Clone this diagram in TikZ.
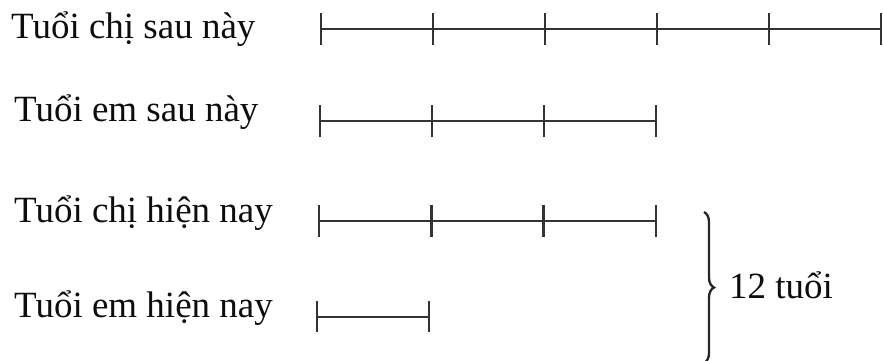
\documentclass[tikz,border=0pt]{standalone}
\usepackage{fontspec}
\setmainfont{Liberation Serif}
\usetikzlibrary{decorations.pathreplacing}
\begin{document}
\begin{tikzpicture}[x=1pt,y=-1pt,
  lbl/.style={anchor=base west,inner sep=0pt,font=\fontsize{37}{40}\selectfont,text=black!95},
  seg/.style={line width=2pt,draw=black!80},
  tk/.style={line width=2.4pt,draw=black!80}]
\useasboundingbox (0,0) rectangle (883,360);
% labels
\node[lbl] (l1) at (11,38) {Tuổi chị sau này};
\node[lbl] (l2) at (14,121) {Tuổi em sau này};
\node[lbl] (l3) at (14,222) {Tuổi chị hiện nay};
\node[lbl] (l4) at (14,317) {Tuổi em hiện nay};
% row 1
\foreach \i in {0,...,5} {\coordinate (a\i) at ({321+112*\i},29);}
\draw[seg] (a0) -- (a5);
\foreach \i in {0,...,5} {\draw[tk] ([yshift=-16]a\i) -- ([yshift=16]a\i);}
% row 2
\foreach \i in {0,...,3} {\coordinate (b\i) at ({320+112*\i},121);}
\draw[seg] (b0) -- (b3);
\foreach \i in {0,...,3} {\draw[tk] ([yshift=-16]b\i) -- ([yshift=16]b\i);}
% row 3
\foreach \i in {0,...,3} {\coordinate (c\i) at ({319+112.3*\i},221);}
\draw[seg] (c0) -- (c3);
\foreach \i in {0,...,3} {\draw[tk] ([yshift=-16]c\i) -- ([yshift=16]c\i);}
% row 4
\foreach \i in {0,1} {\coordinate (d\i) at ({317+112*\i},317);}
\draw[seg] (d0) -- (d1);
\foreach \i in {0,1} {\draw[tk] ([yshift=-15]d\i) -- ([yshift=16]d\i);}
% brace
\coordinate (bt) at (704,212);
\coordinate (bb) at (704,363);
\draw[line width=2.3pt,draw=black!85,decorate,decoration={brace,amplitude=10pt}] (bt) -- (bb);
\node[lbl] (tot) at (729,298) {12 tuổi};
\end{tikzpicture}
\end{document}
